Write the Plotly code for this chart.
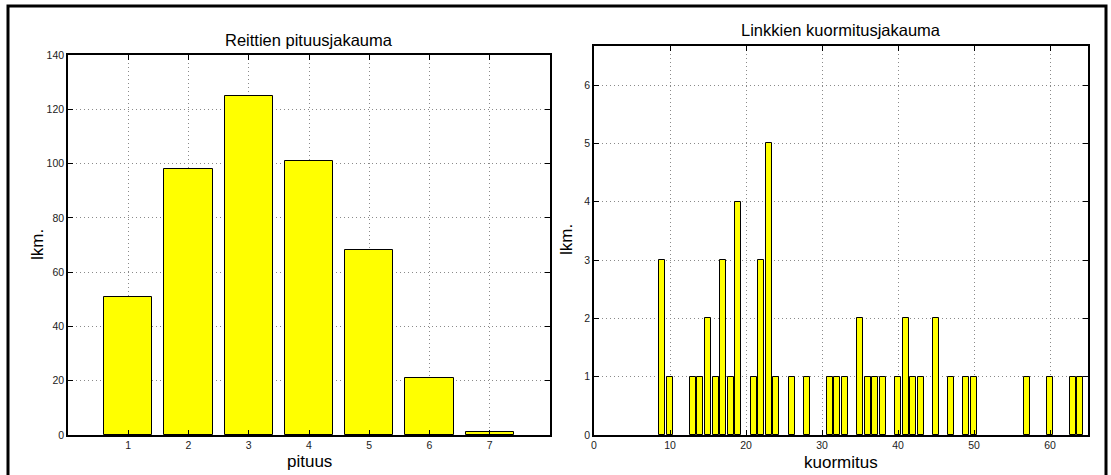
import plotly.graph_objects as go

# Left chart: route length distribution
pituus = [1, 2, 3, 4, 5, 6, 7]
reitit_lkm = [51, 98, 125, 101, 68, 21, 1]

# Right chart: link load distribution (non-zero bins)
kuormitus = [9, 10, 13, 14, 15, 16, 17, 18, 19, 21, 22, 23, 24, 26, 28, 31, 32, 33,
             35, 36, 37, 38, 40, 41, 42, 43, 45, 47, 49, 50, 57, 60, 63, 64]
linkit_lkm = [3, 1, 1, 1, 2, 1, 3, 1, 4, 1, 3, 5, 1, 1, 1, 1, 1, 1,
              2, 1, 1, 1, 1, 2, 1, 1, 2, 1, 1, 1, 1, 1, 1, 1]

left_xticks = [1, 2, 3, 4, 5, 6, 7]
left_yticks = [0, 20, 40, 60, 80, 100, 120, 140]
right_xticks = [0, 10, 20, 30, 40, 50, 60]
right_yticks = [0, 1, 2, 3, 4, 5, 6]

W, H = 1111, 475
FONT = "Liberation Sans, Arial, Helvetica, sans-serif"

def px(x):
    return x / W

def py(y):
    return (H - y) / H

fig = go.Figure()
bar_style = dict(marker=dict(color="#ffff00", line=dict(color="black", width=1)), width=0.8,
                 showlegend=False, hoverinfo="x+y")
fig.add_trace(go.Bar(x=pituus, y=reitit_lkm, xaxis="x", yaxis="y", **bar_style))
fig.add_trace(go.Bar(x=kuormitus, y=linkit_lkm, xaxis="x2", yaxis="y2", **bar_style))

axis_common = dict(
    showline=True, linecolor="black", linewidth=1.5, mirror="allticks",
    ticks="inside", ticklen=5, tickcolor="black", tickwidth=1,
    showgrid=True, gridcolor="#8a8a8a", griddash="1px,3px", gridwidth=1,
    zeroline=False, tickfont=dict(family=FONT, size=10.5, color="#222"),
    automargin=False,
)

fig.update_layout(
    width=W, height=H,
    margin=dict(l=0, r=0, t=0, b=0),
    paper_bgcolor="white", plot_bgcolor="white",
    bargap=0,
    xaxis=dict(domain=[px(68), px(550)], range=[0, 8], tickvals=left_xticks,
               anchor="y", **axis_common),
    yaxis=dict(domain=[py(435), py(55)], range=[0, 140], tickvals=left_yticks,
               anchor="x", **axis_common),
    xaxis2=dict(domain=[px(594), px(1088)], range=[0, 65], tickvals=right_xticks,
                anchor="y2", **axis_common),
    yaxis2=dict(domain=[py(435), py(46)], range=[0, 6.67], tickvals=right_yticks,
                anchor="x2", **axis_common),
    font=dict(family=FONT, color="black"),
)

ann = []
def add_text(text, x, y, size, angle=0):
    ann.append(dict(text=text, x=px(x), y=py(y), xref="paper", yref="paper",
                    showarrow=False, xanchor="center", yanchor="middle",
                    textangle=angle, font=dict(family=FONT, size=size, color="black")))

add_text("Reittien pituusjakauma", 309, 40, 16.5)
add_text("Linkkien kuormitusjakauma", 841, 30, 16.5)
add_text("pituus", 309, 461, 17)
add_text("kuormitus", 841, 462, 17)
add_text("lkm.", 37, 245, 17, -90)
add_text("lkm.", 566, 240, 17, -90)
fig.update_layout(annotations=ann)

# Outer figure frame
fig.add_shape(type="rect", xref="paper", yref="paper",
              x0=px(8), x1=px(1106), y0=py(490), y1=py(6),
              line=dict(color="black", width=3), fillcolor="rgba(0,0,0,0)")

fig.write_html("out.html")
